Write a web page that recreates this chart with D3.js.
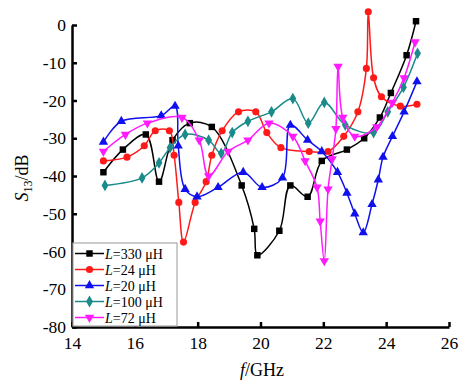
<!DOCTYPE html>
<html><head><meta charset="utf-8">
<script src="https://cdn.jsdelivr.net/npm/d3@7"></script>
<style>body{margin:0;background:#fff;} svg{display:block;font-family:"Liberation Serif","Times New Roman",serif;}</style>
</head><body><svg id="c" width="460" height="381"></svg>
<script>
const xTicks = [14,16,18,20,22,24,26];
const yTicks = [0,-10,-20,-30,-40,-50,-60,-70,-80];

const f330 = [15.0,15.62,16.35,16.77,17.2,17.75,18.45,19.4,19.8,19.9,20.6,20.95,21.5,21.95,22.75,23.3,23.8,24.15,24.65,24.95];
const s330 = [-39,-33,-29,-41.5,-30.5,-26,-27,-42.5,-54,-61,-54.5,-42.5,-45.5,-36,-33,-30,-24.5,-18,-8,1];

const f24 = [15.0,15.75,16.3,16.65,17.1,17.25,17.4,17.55,17.92,18.27,18.45,18.78,19.3,19.85,20.2,20.65,21.55,22.15,22.65,23.1,23.37,23.43,23.6,23.85,24.45,24.98];
const s24 = [-36,-35,-32,-28,-28,-34.5,-47,-57.5,-47,-41.5,-34.5,-28,-23,-23,-28.5,-32.5,-33.5,-33.5,-29.5,-23,-11.5,3.5,-14,-19,-21.5,-21];

const f20 = [15.0,15.57,16.84,17.28,17.38,17.6,17.98,18.65,19.45,20.05,20.7,20.95,21.5,21.95,22.45,22.75,23.0,23.27,23.55,23.75,23.9,24.2,24.57,24.98];
const s20 = [-31,-25.5,-24,-21.5,-32,-43.5,-45.5,-43,-39,-43,-40.5,-26.5,-30.5,-33.5,-39,-44.5,-50,-55,-47.5,-41,-35,-29.5,-23,-15];

const f100 = [15.05,16.23,16.77,17.12,17.6,18.35,18.75,19.1,19.6,20.35,21.03,21.52,22.03,22.7,23.6,24.05,24.55,25.0];
const s100 = [-42.5,-40.5,-36.5,-32.5,-29,-30.5,-34,-28.5,-25.5,-23,-19.5,-26,-20.5,-26.5,-28.5,-23,-16.5,-7.5];

const f72 = [15.0,15.7,16.4,17.5,18.05,18.35,18.97,19.6,20.27,21.03,21.42,21.8,21.9,22.03,22.15,22.28,22.4,22.47,22.62,23.0,23.7,24.2,24.57,24.92];
const s72 = [-33.5,-29,-26,-24.5,-30.5,-40,-33.5,-30.5,-26,-29.5,-36,-43,-52,-62.5,-43.5,-35.5,-27.5,-11,-24.5,-29.5,-27,-20.5,-14,-4.5];

const seriesNames = ["330","24","20","100","72"];
const seriesF = [f330,f24,f20,f100,f72];
const seriesS = [s330,s24,s20,s100,s72];
const colors = ["#000000","#ff1a1a","#1010ee","#1a8a8a","#ff1aff"];
const symbols = [d3.symbolSquare,d3.symbolCircle,d3.symbolTriangle,d3.symbolDiamond,d3.symbolTriangle];
const symRot = [0,0,0,0,180];
const symSize = [42,40,38,40,38];

const svg = d3.select("#c");
const x = d3.scaleLinear().domain([14,26]).range([72,449]);
const y = d3.scaleLinear().domain([-80,0]).range([327,25]);

// data
const line = d3.line().curve(d3.curveCatmullRom.alpha(0.5));
seriesF.forEach((fs,i)=>{
  const pts = fs.map((f,j)=>[x(f),y(seriesS[i][j])]);
  const g = svg.append("g");
  g.append("path").attr("d",line(pts)).attr("fill","none").attr("stroke",colors[i]).attr("stroke-width",1.5);
  g.selectAll("path.m").data(pts).join("path").attr("class","m")
    .attr("d",d3.symbol().type(symbols[i]).size(symSize[i]))
    .attr("transform",d=>`translate(${d[0]},${d[1]}) rotate(${symRot[i]})`)
    .attr("fill",colors[i]);
});

// axes
const ax = svg.append("g").attr("transform","translate(0,327)")
  .call(d3.axisBottom(x).tickValues(xTicks).tickSize(-5).tickSizeOuter(0).tickPadding(10).tickFormat(d3.format("d")));
const ay = svg.append("g").attr("transform","translate(72,0)")
  .call(d3.axisLeft(y).tickValues(yTicks).tickSize(-5).tickSizeOuter(0).tickPadding(6).tickFormat(d=>d===0?"0":"-"+Math.abs(d)));
[ax,ay].forEach(a=>{
  a.select(".domain").attr("stroke","#000").attr("stroke-width",2.5);
  a.selectAll(".tick line").attr("stroke","#000").attr("stroke-width",2.5);
  a.selectAll(".tick text").attr("fill","#000").style("font-family","Liberation Serif").style("font-size","17.5px");
});

// axis titles
const xl = svg.append("text").attr("x",262).attr("y",376).attr("text-anchor","middle").style("font-size","18px");
xl.append("tspan").attr("font-style","italic").text("f");
xl.append("tspan").text("/GHz");
const yl = svg.append("text").attr("transform","translate(28,178) rotate(-90)").attr("text-anchor","middle").style("font-size","18px");
yl.append("tspan").attr("font-style","italic").text("S");
yl.append("tspan").attr("dy",4).style("font-size","12px").text("13");
yl.append("tspan").attr("dy",-4).text("/dB");

// legend
const lg = svg.append("g");
lg.append("rect").attr("x",73).attr("y",243).attr("width",104).attr("height",83).attr("fill","#fff").attr("stroke","#aaa").attr("stroke-width",1.2);
seriesNames.forEach((n,i)=>{
  const cy = 253.5 + i*16;
  lg.append("line").attr("x1",75).attr("x2",104).attr("y1",cy).attr("y2",cy).attr("stroke",colors[i]).attr("stroke-width",1.5);
  lg.append("path").attr("d",d3.symbol().type(symbols[i]).size(symSize[i])()).attr("transform",`translate(89.5,${cy}) rotate(${symRot[i]})`).attr("fill",colors[i]);
  const t = lg.append("text").attr("x",105).attr("y",cy+5).style("font-size","14px");
  t.append("tspan").attr("font-style","italic").text("L");
  t.append("tspan").text("=" + n + " μH");
});
</script></body></html>
